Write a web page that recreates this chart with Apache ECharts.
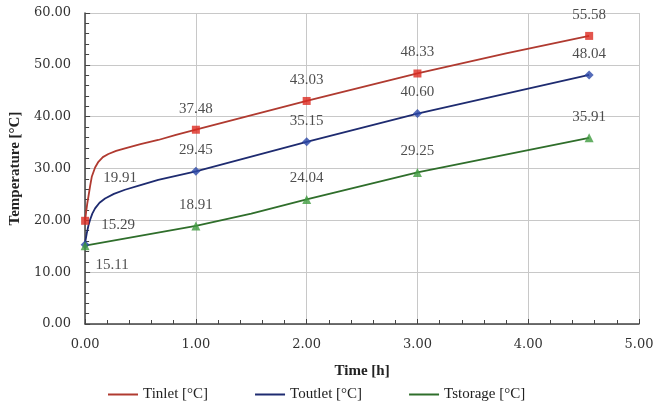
<!DOCTYPE html>
<html>
<head>
<meta charset="utf-8">
<script src="https://cdn.jsdelivr.net/npm/echarts@6/dist/echarts.min.js"></script>
<style>html,body{margin:0;padding:0;background:#fff}#c{width:664px;height:403px}</style>
</head>
<body>
<div id="c"></div>
<script>
// ---- data ----
var seriesNames = ['Tinlet [°C]', 'Toutlet [°C]', 'Tstorage [°C]'];
var keyTimes = [0, 1, 2, 3, 4.55];
var tinletKey = [19.91, 37.48, 43.03, 48.33, 55.58];
var toutletKey = [15.29, 29.45, 35.15, 40.60, 48.04];
var tstorageKey = [15.11, 18.91, 24.04, 29.25, 35.91];
// curve samples (unmarked points of the traces)
var tinletCurveT = [0, 0.01, 0.02, 0.03, 0.045, 0.06, 0.09, 0.12, 0.16, 0.21, 0.28, 0.36, 0.5, 0.66, 0.82, 1, 2, 3, 3.8, 4.55];
var tinletCurveV = [19.91, 21.8, 23.3, 24.6, 26.6, 28.4, 30.2, 31.3, 32.2, 32.8, 33.4, 33.9, 34.7, 35.5, 36.5, 37.48, 43.03, 48.33, 52.2, 55.58];
var toutletCurveT = [0, 0.005, 0.015, 0.03, 0.045, 0.065, 0.09, 0.13, 0.18, 0.26, 0.36, 0.5, 0.66, 0.82, 1, 2, 3, 4.55];
var toutletCurveV = [15.29, 16.3, 17.5, 19.0, 20.1, 21.3, 22.3, 23.4, 24.2, 25.1, 25.9, 26.8, 27.8, 28.6, 29.45, 35.15, 40.60, 48.04];
var tstorageCurveT = [0, 1, 1.5, 2, 3, 4.55];
var tstorageCurveV = [15.11, 18.91, 21.3, 24.04, 29.25, 35.91];
var xTicks = [0, 1, 2, 3, 4, 5];
var yTicks = [0, 10, 20, 30, 40, 50, 60];

// ---- styles ----
var lineColors = ['#B03A30', '#1E2B70', '#2F6E2B'];
var markColors = ['#DC2A20', '#2B47A8', '#3F9B3F'];
var symbols = ['rect', 'diamond', 'triangle'];
var symbolSizes = [8, 9, 9];
var firstOffsets = [[35, -43], [33, -20], [27, 19]];

function pairs(t, v) { return t.map(function (x, i) { return [x, v[i]]; }); }
var curves = [pairs(tinletCurveT, tinletCurveV), pairs(toutletCurveT, toutletCurveV), pairs(tstorageCurveT, tstorageCurveV)];
var keys = [tinletKey, toutletKey, tstorageKey];

var series = [];
for (var s = 0; s < 3; s++) {
  series.push({
    name: seriesNames[s], type: 'line', data: curves[s], smooth: false,
    showSymbol: false, symbol: 'none',
    lineStyle: { color: lineColors[s], width: 1.8, join: 'round' }, itemStyle: { color: lineColors[s] },
    z: 2
  });
}
for (var s2 = 0; s2 < 3; s2++) {
  (function (s) {
    series.push({
      name: seriesNames[s] + ' pts', type: 'scatter', symbol: symbols[s], symbolSize: symbolSizes[s],
      itemStyle: { color: markColors[s] }, z: 3,
      data: keyTimes.map(function (t, i) {
        return {
          value: [t, keys[s][i]],
          label: {
            show: true, position: 'inside', offset: i === 0 ? firstOffsets[s] : [0, -21],
            formatter: function (p) { return p.value[1].toFixed(2); },
            fontFamily: 'Liberation Serif', fontSize: 15, color: '#222'
          }
        };
      })
    });
  })(s2);
}

var chart = echarts.init(document.getElementById('c'), null, { renderer: 'canvas' });
chart.setOption({
  animation: false,
  backgroundColor: '#fff',
  grid: { left: 85, right: 25, top: 13, bottom: 79, containLabel: false },
  legend: {
    data: seriesNames, left: 103, top: 382, itemGap: 47, itemWidth: 30, itemHeight: 2, icon: 'rect',
    textStyle: { fontFamily: 'Liberation Serif', fontSize: 15, color: '#222', padding: [0, 0, 0, 0] }
  },
  xAxis: {
    type: 'value', min: 0, max: 5, interval: 1,
    name: 'Time [h]', nameLocation: 'middle', nameGap: 40,
    nameTextStyle: { fontFamily: 'Liberation Serif', fontSize: 15, fontWeight: 'bold', color: '#222' },
    axisLine: { show: true, onZero: false, lineStyle: { color: '#444', width: 1.5 } },
    axisTick: { show: true, inside: true, length: 5, lineStyle: { color: '#444' } },
    minorTick: { show: true, splitNumber: 5, length: 4, lineStyle: { color: '#444' } },
    axisLabel: { margin: 14, fontFamily: 'DejaVu Serif', fontSize: 13, color: '#333',
      formatter: function (v) { return v.toFixed(2); } },
    splitLine: { show: true, lineStyle: { color: '#c8c8c8', width: 1 } }
  },
  yAxis: {
    type: 'value', min: 0, max: 60, interval: 10,
    name: 'Temperature [°C]', nameLocation: 'middle', nameGap: 60, nameRotate: 90,
    nameTextStyle: { fontFamily: 'Liberation Serif', fontSize: 15, fontWeight: 'bold', color: '#222' },
    axisLine: { show: true, onZero: false, lineStyle: { color: '#444', width: 1.5 } },
    axisTick: { show: true, inside: true, length: 5, lineStyle: { color: '#444' } },
    minorTick: { show: true, splitNumber: 5, length: 4, lineStyle: { color: '#444' } },
    axisLabel: { margin: 14, fontFamily: 'DejaVu Serif', fontSize: 13, color: '#333',
      formatter: function (v) { return v.toFixed(2); } },
    splitLine: { show: true, lineStyle: { color: '#c8c8c8', width: 1 } }
  },
  series: series
});
</script>
</body>
</html>
